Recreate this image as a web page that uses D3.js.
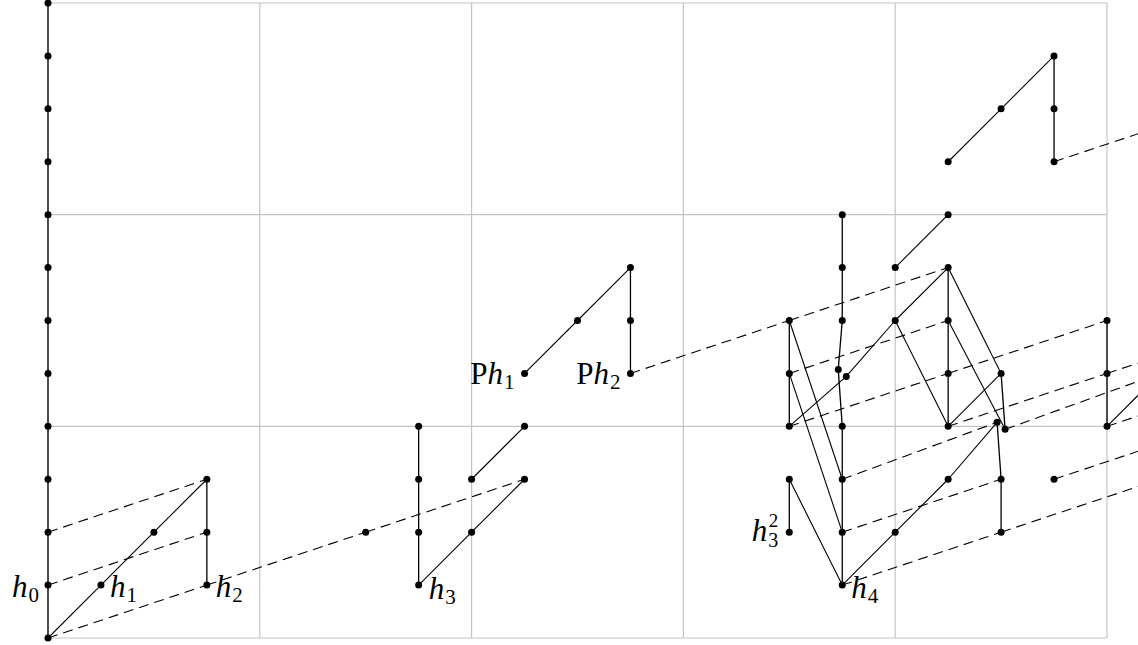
<!DOCTYPE html>
<html>
<head>
<meta charset="utf-8">
<script src="https://cdn.jsdelivr.net/npm/d3@7"></script>
<style>
  body { margin: 0; background: #fff; }
</style>
</head>
<body>
<div id="chart"></div>
<script>
// grid ticks (stem t-s and filtration s)
const stemTicks = [0, 4, 8, 12, 16, 20];
const filtTicks = [0, 4, 8, 12];

// classes as "stem,filtration[slot]"
const classes = [
  "0,0", "0,1", "0,2", "0,3", "0,4", "0,5", "0,6", "0,7", "0,8", "0,9", "0,10", "0,11", "0,12",
  "1,1", "2,2", "3,1", "3,2", "3,3",
  "6,2",
  "7,1", "7,2", "7,3", "7,4", "8,2", "9,3", "8,3", "9,4",
  "9,5", "10,6", "11,5", "11,6", "11,7",
  "14,2", "14,3", "14,4", "14,5", "14,6",
  "15,1", "15,2", "15,3", "15,4", "15,5a", "15,5b", "15,6", "15,7", "15,8",
  "16,2", "16,6", "16,7",
  "17,3", "17,4", "17,5", "17,6", "17,7", "17,8", "17,9",
  "18,2", "18,3", "18,4a", "18,4b", "18,5", "18,10",
  "19,3", "19,9", "19,10", "19,11",
  "20,4", "20,5", "20,6"
];

// h0 multiplications
const h0Lines = [
  ["0,0", "0,12"],
  ["3,1", "3,2"], ["3,2", "3,3"],
  ["7,1", "7,2"], ["7,2", "7,3"], ["7,3", "7,4"],
  ["11,5", "11,6"], ["11,6", "11,7"],
  ["14,2", "14,3"], ["14,4", "14,5"], ["14,5", "14,6"],
  ["15,1", "15,2"], ["15,2", "15,3"], ["15,3", "15,4"], ["15,4", "15,5a"],
  ["15,5a", "15,6"], ["15,6", "15,7"], ["15,7", "15,8"],
  ["17,4", "17,5"], ["17,5", "17,6"], ["17,6", "17,7"],
  ["18,2", "18,3"], ["18,3", "18,4a"], ["18,4b", "18,5"],
  ["19,9", "19,10"], ["19,10", "19,11"],
  ["20,4", "20,5"], ["20,5", "20,6"]
];

// h1 multiplications
const h1Lines = [
  ["0,0", "1,1"], ["1,1", "2,2"], ["2,2", "3,3"],
  ["7,1", "8,2"], ["8,2", "9,3"], ["8,3", "9,4"],
  ["9,5", "10,6"], ["10,6", "11,7"],
  ["14,4", "15,5b"], ["15,5b", "16,6"], ["16,6", "17,7"],
  ["15,1", "16,2"], ["16,2", "17,3"], ["17,3", "18,4a"],
  ["16,7", "17,8"], ["17,4", "18,5"],
  ["17,9", "18,10"], ["18,10", "19,11"],
  ["20,4", "21,5"]
];

// differentials
const diffLines = [
  ["14,3", "15,1"], ["14,5", "15,2"], ["14,6", "15,3"],
  ["16,6", "17,4"], ["17,6", "18,4b"], ["17,7", "18,5"]
];

// h2 multiplications (dashed)
const h2Lines = [
  ["0,0", "3,1"], ["3,1", "6,2"], ["6,2", "9,3"],
  ["0,1", "3,2"], ["0,2", "3,3"],
  ["11,5", "14,6"], ["14,6", "17,7"],
  ["14,4", "17,5"], ["17,5", "20,6"],
  ["14,5", "17,6"],
  ["15,1", "18,2"], ["18,2", "21,3"],
  ["15,2", "18,3"], ["15,3", "18,4a"],
  ["17,4", "20,5"], ["20,5", "23,6"],
  ["18,4b", "21,5"], ["19,3", "22,4"],
  ["19,9", "22,10"], ["20,4", "23,5"]
];

// labels: class, prefix (upright), letter, subscript, superscript
const labels = [
  ["0,1", "", "h", "0", ""],
  ["1,1", "", "h", "1", ""],
  ["3,1", "", "h", "2", ""],
  ["7,1", "", "h", "3", ""],
  ["9,5", "P", "h", "1", ""],
  ["11,5", "P", "h", "2", ""],
  ["14,2", "", "h", "3", "2"],
  ["15,1", "", "h", "4", ""]
];

const width = 1138, height = 645;

const x = d3.scaleLinear().domain([0, 20]).range([48, 1107]);
const y = d3.scaleLinear().domain([0, 12]).range([638, 3]);

const slotShift = { a: [-4, -4], b: [4, 3] };

function pos(key) {
  let m = key.match(/^(\d+),(\d+)([ab]?)$/);
  let px = x(+m[1]), py = y(+m[2]);
  if (m[3]) {
    px += slotShift[m[3]][0];
    py += slotShift[m[3]][1];
  }
  return [px, py];
}

let svg = d3.select('#chart').append('svg')
  .attr('width', width)
  .attr('height', height);

// grid
svg.append('g').selectAll('line').data(stemTicks).join('line')
  .attr('x1', d => x(d)).attr('x2', d => x(d))
  .attr('y1', y(0)).attr('y2', y(12))
  .attr('stroke', '#c4c4c4').attr('stroke-width', 1.2);
svg.append('g').selectAll('line').data(filtTicks).join('line')
  .attr('x1', x(0)).attr('x2', x(20))
  .attr('y1', d => y(d)).attr('y2', d => y(d))
  .attr('stroke', '#c4c4c4').attr('stroke-width', 1.2);

// labels
let font = 'Liberation Serif, DejaVu Serif, serif';
let place = {
  "0,1": ["end", -9, 12], "1,1": ["start", 9, 12], "3,1": ["start", 9, 12],
  "7,1": ["start", 10, 14], "9,5": ["end", -10, 11], "11,5": ["end", -10, 11],
  "14,2": ["end", -11, 9], "15,1": ["start", 9, 13]
};
labels.forEach(l => {
  let p = pos(l[0]), pl = place[l[0]];
  let tx = p[0] + pl[1], ty = p[1] + pl[2];
  if (!l[4]) {
    let t = svg.append('text')
      .attr('x', tx).attr('y', ty)
      .attr('text-anchor', pl[0])
      .style('font-family', font).attr('font-size', 31).attr('fill', '#000');
    if (l[1]) t.append('tspan').text(l[1]);
    t.append('tspan').attr('font-style', 'italic').text(l[2]);
    t.append('tspan').attr('font-size', 21).attr('dy', 5).attr('dx', 1).text(l[3]);
    return;
  }
  // sub- and superscript stacked, right-aligned at tx
  let sub = svg.append('text')
    .attr('x', tx).attr('y', ty + 6).attr('text-anchor', 'end')
    .style('font-family', font).attr('font-size', 20).attr('fill', '#000')
    .text(l[3]);
  svg.append('text')
    .attr('x', tx).attr('y', ty - 14).attr('text-anchor', 'end')
    .style('font-family', font).attr('font-size', 19).attr('fill', '#000')
    .text(l[4]);
  let w = sub.node().getComputedTextLength();
  svg.append('text')
    .attr('x', tx - w - 1).attr('y', ty).attr('text-anchor', 'end')
    .style('font-family', font).attr('font-size', 31).attr('font-style', 'italic')
    .attr('fill', '#000')
    .text(l[1] + l[2]);
});

// lines
function drawLines(list, dash, color, w) {
  svg.append('g').selectAll('line').data(list).join('line')
    .attr('x1', d => pos(d[0])[0]).attr('y1', d => pos(d[0])[1])
    .attr('x2', d => pos(d[1])[0]).attr('y2', d => pos(d[1])[1])
    .attr('stroke', color).attr('stroke-width', w)
    .attr('stroke-dasharray', dash);
}
drawLines(h0Lines, null, '#000', 1.3);
drawLines(h1Lines, null, '#000', 1.1);
drawLines(diffLines, null, '#000', 1.1);
drawLines(h2Lines, '10,6', '#000', 1.1);

// dots
svg.append('g').selectAll('circle').data(classes).join('circle')
  .attr('cx', d => pos(d)[0]).attr('cy', d => pos(d)[1])
  .attr('r', 3.5).attr('fill', '#000');
</script>
</body>
</html>
